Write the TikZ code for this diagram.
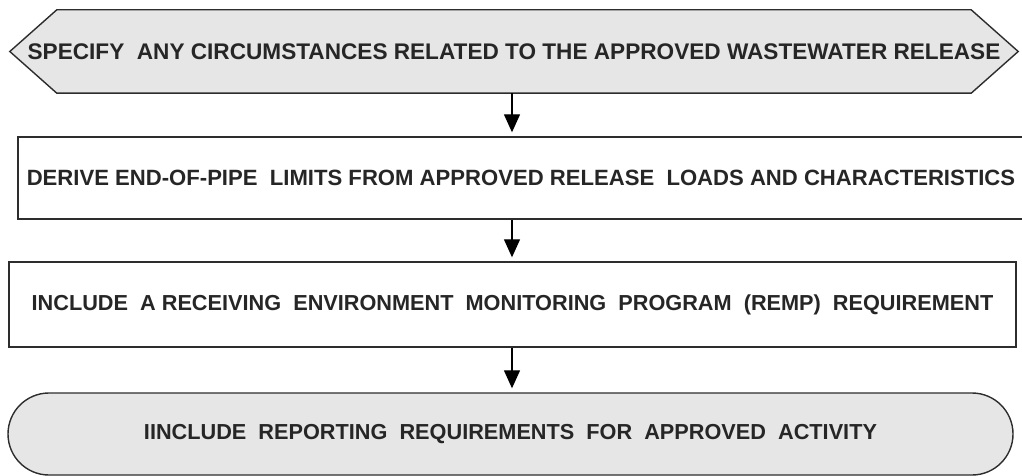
\documentclass[tikz,border=0pt]{standalone}
\usepackage{fontspec}
\setmainfont{Liberation Sans}
\usetikzlibrary{shapes.misc}
\usetikzlibrary{arrows.meta}
\usetikzlibrary{backgrounds}
\definecolor{stepgray}{RGB}{230,230,230}
\definecolor{edgegray}{RGB}{45,45,45}
\newcommand{\flowfont}[1]{\fontsize{#1}{25}\selectfont\bfseries}
\tikzstyle{flowtext}=[text=black!85, inner sep=0pt]
\tikzstyle{flowline}=[draw=edgegray, line width=1.4pt]
\tikzstyle{flowbox}=[flowtext, flowline, rectangle, fill=white]
\tikzstyle{flowstart}=[flowtext, rectangle]
\tikzstyle{flowend}=[flowtext, flowline, rounded rectangle, fill=stepgray]
\tikzstyle{flowarrow}=[line width=1.3pt, -{Triangle[length=18pt,width=16pt]}, shorten >=4pt]

\begin{document}
\begin{tikzpicture}[x=1pt,y=-1pt]
\useasboundingbox (0,0) rectangle (1022,476);
\node[flowstart, font=\flowfont{22.6}, minimum width=1008pt, minimum height=83pt] (specify) at (514,51.5)
    {SPECIFY\ \ ANY CIRCUMSTANCES RELATED TO THE APPROVED WASTEWATER RELEASE};
\begin{scope}[on background layer]
\draw[flowline, fill=stepgray] ([xshift=47pt]specify.north west) -- ([xshift=-47pt]specify.north east)
    -- (specify.east) -- ([xshift=-47pt]specify.south east) -- ([xshift=47pt]specify.south west)
    -- (specify.west) -- cycle;
\end{scope}
\node[flowbox, font=\flowfont{22.1}, minimum width=1006pt, minimum height=82pt] (derive) at (521,178)
    {DERIVE END-OF-PIPE\ \ LIMITS FROM APPROVED RELEASE\ \ LOADS AND CHARACTERISTICS};
\node[flowbox, font=\flowfont{21.7}, minimum width=1007pt, minimum height=85pt] (remp) at (512.5,304.5)
    {INCLUDE\ \ A RECEIVING\ \ ENVIRONMENT\ \ MONITORING\ \ PROGRAM\ \ (REMP)\ \ REQUIREMENT};
\node[flowend, font=\flowfont{21.7}, minimum width=1005pt, minimum height=82pt] (report) at (510.5,434)
    {IINCLUDE\ \ REPORTING\ \ REQUIREMENTS\ \ FOR\ \ APPROVED\ \ ACTIVITY};
\draw[flowarrow] (specify.south -| 512,0) -- (derive.north -| 512,0);
\draw[flowarrow] (derive.south -| 512,0) -- (remp.north -| 512,0);
\draw[flowarrow] (remp.south -| 512,0) -- (report.north -| 512,0);
\end{tikzpicture}
\end{document}
